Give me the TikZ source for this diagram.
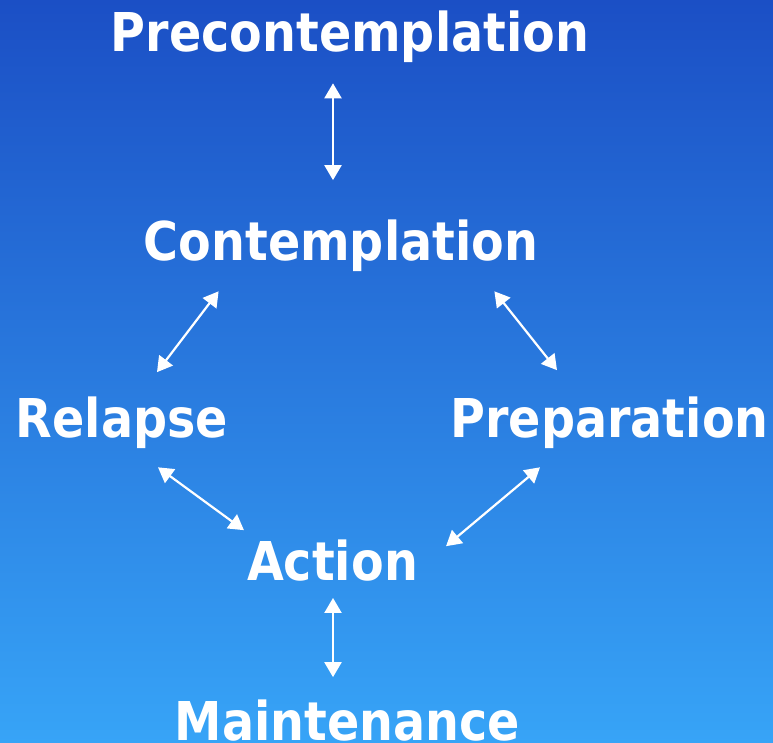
\documentclass[tikz,border=0pt]{standalone}
\usepackage{fontspec}
\setmainfont{DejaVu Sans}
\usepackage{tikz}
\usetikzlibrary{arrows.meta, calc}
\definecolor{skytop}{RGB}{27,79,197}
\definecolor{skybottom}{RGB}{55,164,247}
\tikzset{
    stage/.style={text=white, font=\fontsize{53.5}{60}\selectfont\bfseries, inner sep=0pt, anchor=base, xscale=0.89, transform shape},
    link/.style={draw=white, line width=2.2pt, <->, >={Triangle[length=15pt, width=17pt]}}
}

\begin{document}
\begin{tikzpicture}[x=1pt, y=-1pt]
    \shade [top color=skytop, bottom color=skybottom] (0,0) rectangle (773,743);
    \useasboundingbox (0,0) rectangle (773,743);

    \node [stage] (Pre) at (350,52) {Precontemplation};
    \node [stage] (Con) at (341,261) {Contemplation};
    \node [stage] (Rel) at (122,437) {Relapse};
    \node [stage] (Prep) at (609.5,437) {Preparation};
    \node [stage] (Act) at (332.5,580) {Action};
    \node [stage] (Main) at (347.5,740) {Maintenance};

    \draw [link] ([xshift=-17pt, yshift=-20pt]Pre.south) -- ([xshift=-8pt, yshift=40pt]Con.north);
    \draw [link] ([xshift=75pt, yshift=-19pt]Con.south west) -- ([xshift=35pt, yshift=24pt]Rel.north);
    \draw [link] ([xshift=-44pt, yshift=-19pt]Con.south east) -- ([xshift=-52.5pt, yshift=26pt]Prep.north);
    \draw [link] ([xshift=36pt, yshift=-19pt]Rel.south) -- ([xshift=-3pt, yshift=9pt]Act.north west);
    \draw [link] ([xshift=-69.5pt, yshift=-19pt]Prep.south) -- ([xshift=28pt, yshift=-7pt]Act.north east);
    \draw [link] ([xshift=0.5pt, yshift=-17pt]Act.south) -- ([xshift=-14.5pt, yshift=22pt]Main.north);
\end{tikzpicture}
\end{document}
